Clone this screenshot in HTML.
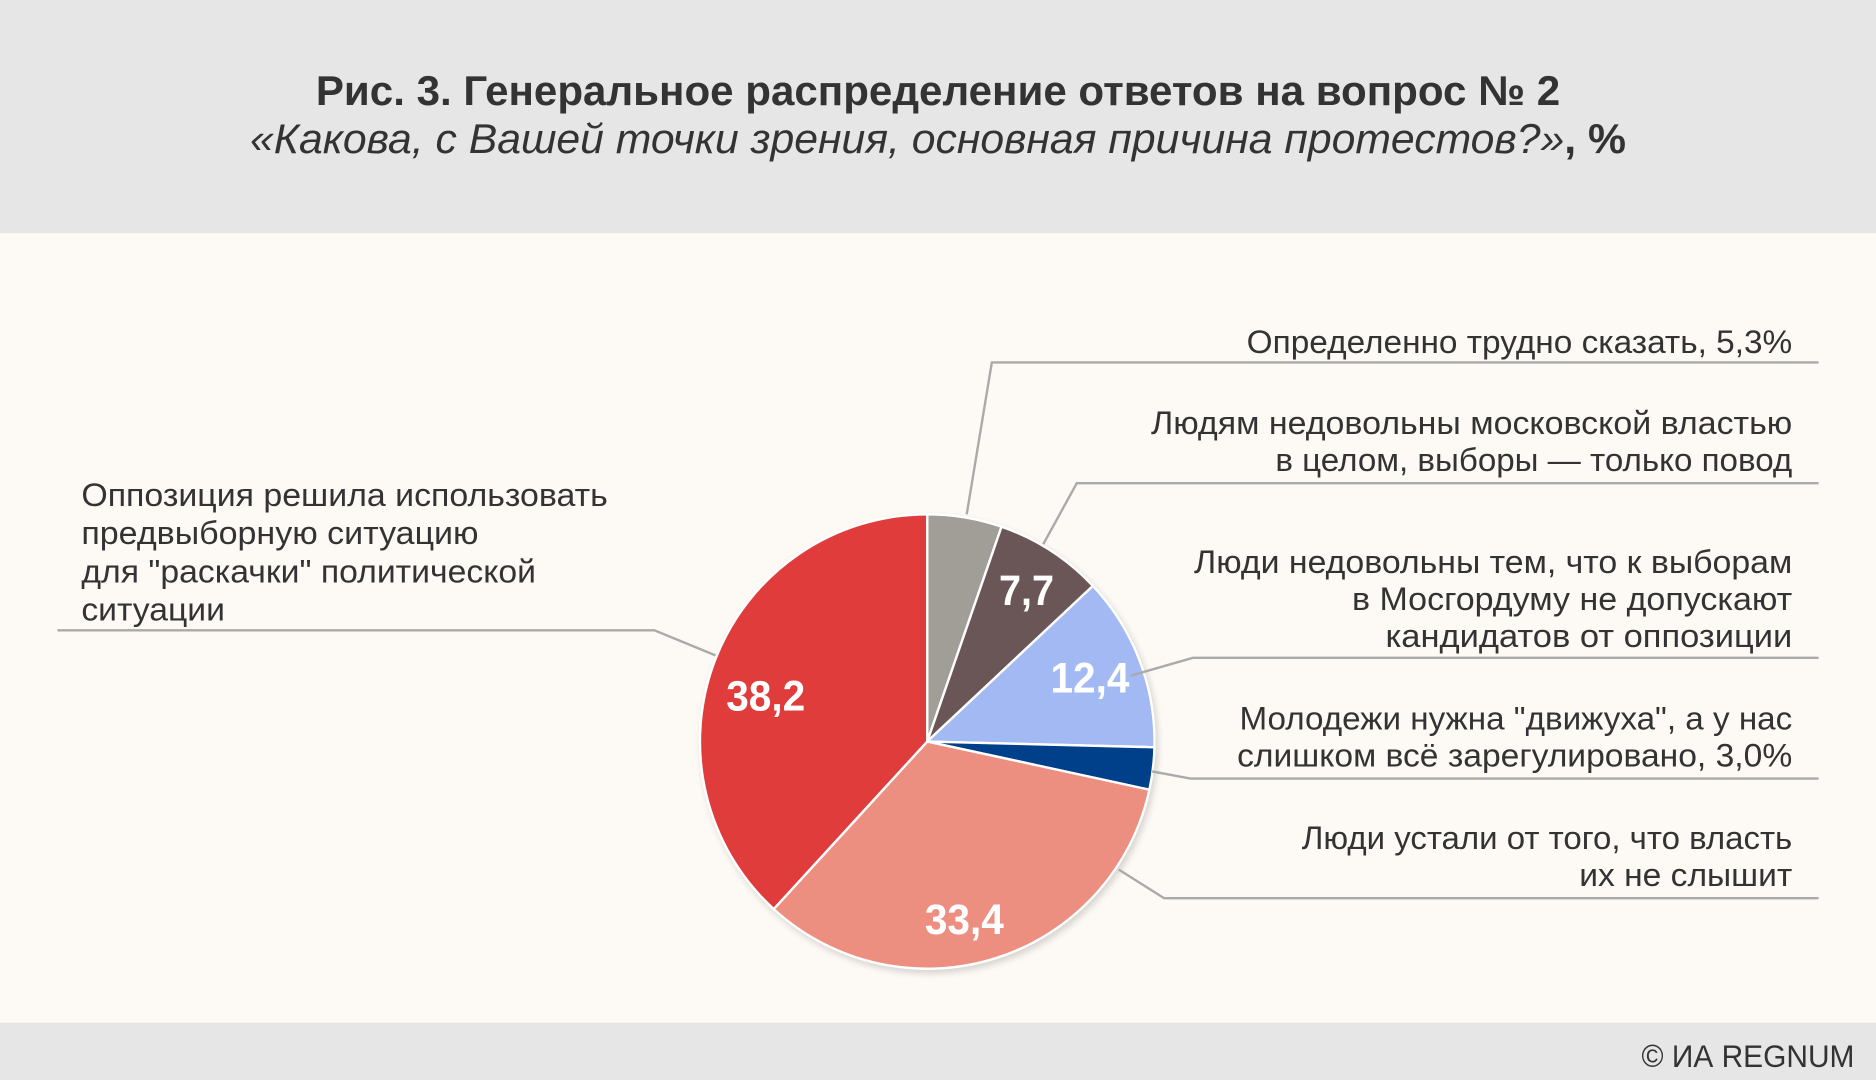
<!DOCTYPE html>
<html><head><meta charset="utf-8"><style>
html,body{margin:0;padding:0;background:#fdf9f5;}
svg{display:block;}
text{font-family:"Liberation Sans","DejaVu Sans",sans-serif;}
</style></head><body>
<svg width="1876" height="1080" viewBox="0 0 1568 903" preserveAspectRatio="none" xmlns="http://www.w3.org/2000/svg">
<defs><filter id="sh" x="-20%" y="-20%" width="140%" height="140%"><feGaussianBlur stdDeviation="3"/></filter></defs>
<rect x="0" y="0" width="1568" height="903" fill="#fdf9f5"/>
<rect x="0" y="0" width="1568" height="195" fill="#e6e6e6"/>
<rect x="0" y="855" width="1568" height="48" fill="#e6e6e6"/>
<text x="784" y="88" text-anchor="middle" font-size="35" font-weight="bold" fill="#333" textLength="1040" lengthAdjust="spacingAndGlyphs">Рис. 3. Генеральное распределение ответов на вопрос № 2</text>
<text x="784" y="128" text-anchor="middle" font-size="35" fill="#333" textLength="1150" lengthAdjust="spacingAndGlyphs"><tspan font-style="italic">«Какова, с Вашей точки зрения, основная причина протестов?»</tspan><tspan font-weight="bold">, %</tspan></text>

<circle cx="777" cy="623" r="191" fill="#000" opacity="0.15" filter="url(#sh)"/>
<g stroke="#fff" stroke-width="2" stroke-linejoin="round">
<path d="M775,620 L775,430 A190,190 0 0 1 837.1,440.4 Z" fill="#a19d97"/>
<path d="M775,620 L837.1,440.4 A190,190 0 0 1 913.5,489.9 Z" fill="#6b5657"/>
<path d="M775,620 L913.5,489.9 A190,190 0 0 1 964.9,624.8 Z" fill="#a3b9f3"/>
<path d="M775,620 L964.9,624.8 A190,190 0 0 1 960.7,660.3 Z" fill="#003f8a"/>
<path d="M775,620 L960.7,660.3 A190,190 0 0 1 646.7,760.1 Z" fill="#ec8f80"/>
<path d="M775,620 L646.7,760.1 A190,190 0 0 1 775,430 Z" fill="#e03c3c"/>
</g>
<g fill="#fff" font-weight="bold" font-size="36" text-anchor="middle">
<text x="858" y="506" textLength="46" lengthAdjust="spacingAndGlyphs">7,7</text>
<text x="911" y="579" textLength="66" lengthAdjust="spacingAndGlyphs">12,4</text>
<text x="640" y="594" textLength="66" lengthAdjust="spacingAndGlyphs">38,2</text>
<text x="806" y="781" textLength="66" lengthAdjust="spacingAndGlyphs">33,4</text>
</g>

<g fill="none" stroke="#aaa" stroke-width="2">
<polyline points="808,430 829,303 1520,303"/>
<polyline points="872,455 900,404 1520,404"/>
<polyline points="945,565 997,550 1520,550"/>
<polyline points="963,645 995,651 1520,651"/>
<polyline points="935,727 973,751 1520,751"/>
<polyline points="598,548 547,527 48,527"/>
</g>
<g fill="#333" font-size="27" text-anchor="end">
<text x="1498" y="295" textLength="456" lengthAdjust="spacingAndGlyphs">Определенно трудно сказать, 5,3%</text>
<text x="1498" y="363" textLength="536" lengthAdjust="spacingAndGlyphs">Людям недовольны московской властью</text>
<text x="1498" y="394" textLength="432" lengthAdjust="spacingAndGlyphs">в целом, выборы — только повод</text>
<text x="1498" y="479" textLength="500" lengthAdjust="spacingAndGlyphs">Люди недовольны тем, что к выборам</text>
<text x="1498" y="510" textLength="368" lengthAdjust="spacingAndGlyphs">в Мосгордуму не допускают</text>
<text x="1498" y="541" textLength="340" lengthAdjust="spacingAndGlyphs">кандидатов от оппозиции</text>
<text x="1498" y="610" textLength="462" lengthAdjust="spacingAndGlyphs">Молодежи нужна "движуха", а у нас</text>
<text x="1498" y="641" textLength="464" lengthAdjust="spacingAndGlyphs">слишком всё зарегулировано, 3,0%</text>
<text x="1498" y="710" textLength="410" lengthAdjust="spacingAndGlyphs">Люди устали от того, что власть</text>
<text x="1498" y="741" textLength="178" lengthAdjust="spacingAndGlyphs">их не слышит</text>
</g>
<g fill="#333" font-size="27">
<text x="68" y="423" textLength="440" lengthAdjust="spacingAndGlyphs">Оппозиция решила использовать</text>
<text x="68" y="455" textLength="332" lengthAdjust="spacingAndGlyphs">предвыборную ситуацию</text>
<text x="68" y="487" textLength="380" lengthAdjust="spacingAndGlyphs">для "раскачки" политической</text>
<text x="68" y="519" textLength="120" lengthAdjust="spacingAndGlyphs">ситуации</text>
</g>
<text x="1550" y="892" text-anchor="end" font-size="26" fill="#333" textLength="178" lengthAdjust="spacingAndGlyphs">© ИА REGNUM</text>
</svg>
</body></html>
